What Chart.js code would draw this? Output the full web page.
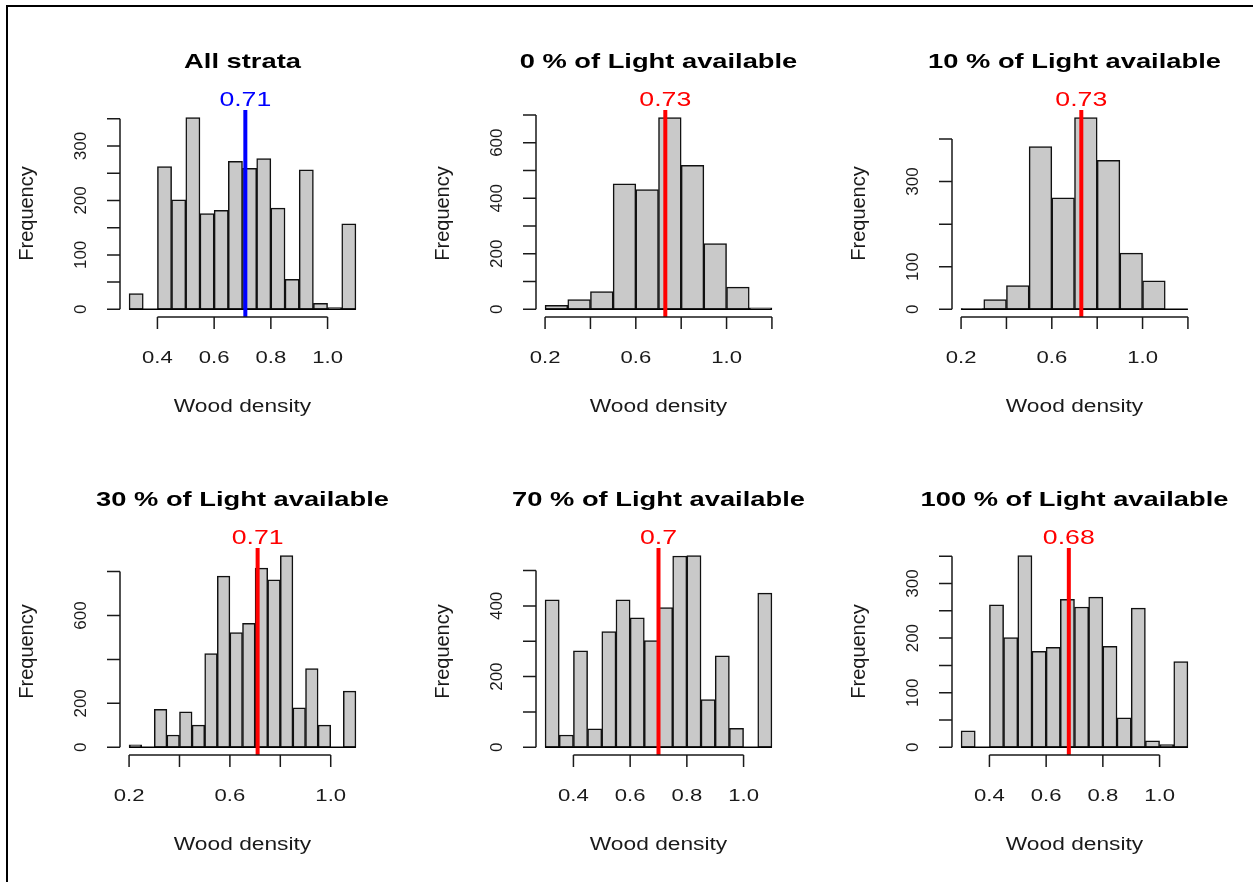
<!DOCTYPE html>
<html>
<head>
<meta charset="utf-8">
<script src="https://cdn.jsdelivr.net/npm/chart.js@4.4.1/dist/chart.umd.min.js"></script>
<style>
  body { margin: 0; background: #fff; }
  #page { position: relative; width: 1253px; height: 882px; overflow: hidden; background: #fff; }
  #frame { position: absolute; left: 6px; top: 5px; width: 1300px; height: 900px;
           border-top: 2px solid #000; border-left: 2px solid #000; }
  canvas { position: absolute; }
</style>
</head>
<body>
<div id="page"><div id="frame"></div></div>
<script>
// panel titles and the mean wood density drawn as a vertical line
const titles = ['All strata', '0 % of Light available', '10 % of Light available',
                '30 % of Light available', '70 % of Light available', '100 % of Light available'];
const means = [0.71, 0.73, 0.73, 0.71, 0.7, 0.68];
const meanLabels = ['0.71', '0.73', '0.73', '0.71', '0.7', '0.68'];
const meanColors = ['#0000ff', '#ff0000', '#ff0000', '#ff0000', '#ff0000', '#ff0000'];

// histogram bins: first break and bin width
const binStart = [0.3, 0.2, 0.2, 0.2, 0.3, 0.3];
const binWidth = [0.05, 0.1, 0.1, 0.05, 0.05, 0.05];

// counts per bin
const allStrata = [29, 0, 262, 201, 352, 176, 182, 272, 259, 277, 186, 55, 256, 11, 3, 157];
const light0 = [14, 35, 64, 452, 431, 690, 518, 237, 80, 5];
const light10 = [2, 23, 56, 382, 262, 450, 350, 132, 67, 0];
const light30 = [11, 0, 173, 56, 161, 101, 426, 779, 522, 564, 815, 762, 872, 180, 358, 101, 0, 256];
const light70 = [417, 35, 273, 52, 327, 417, 366, 302, 395, 541, 542, 135, 259, 54, 0, 436];
const light100 = [30, 0, 261, 201, 351, 176, 183, 271, 257, 275, 185, 54, 255, 12, 5, 157];
const counts = [allStrata, light0, light10, light30, light70, light100];

// axis ticks and the labels R managed to print
const xTicks = [
  [0.4, 0.6, 0.8, 1.0],
  [0.2, 0.4, 0.6, 0.8, 1.0, 1.2],
  [0.2, 0.4, 0.6, 0.8, 1.0, 1.2],
  [0.2, 0.4, 0.6, 0.8, 1.0],
  [0.4, 0.6, 0.8, 1.0],
  [0.4, 0.6, 0.8, 1.0]
];
const xLabels = [
  ['0.4', '0.6', '0.8', '1.0'],
  ['0.2', '', '0.6', '', '1.0', ''],
  ['0.2', '', '0.6', '', '1.0', ''],
  ['0.2', '', '0.6', '', '1.0'],
  ['0.4', '0.6', '0.8', '1.0'],
  ['0.4', '0.6', '0.8', '1.0']
];
const yTicks = [
  [0, 50, 100, 150, 200, 250, 300, 350],
  [0, 100, 200, 300, 400, 500, 600, 700],
  [0, 100, 200, 300, 400],
  [0, 200, 400, 600, 800],
  [0, 100, 200, 300, 400, 500],
  [0, 50, 100, 150, 200, 250, 300, 350]
];
const yLabels = [
  ['0', '', '100', '', '200', '', '300', ''],
  ['0', '', '200', '', '400', '', '600', ''],
  ['0', '100', '', '300', ''],
  ['0', '200', '', '600', ''],
  ['0', '', '200', '', '400', ''],
  ['0', '', '100', '', '200', '', '300', '']
];

const FONT = "'Liberation Sans', Arial, sans-serif";
const CELL_W = 416, CELL_H = 440, ROW_STEP = 438;
const PAD = { left: 120, top: 110, right: CELL_W - 365, bottom: CELL_H - 317 };

function wideText(ctx, text, x, y, font, sx, color) {
    ctx.save();
    ctx.translate(x, y);
    ctx.scale(sx, 1);
    ctx.font = font;
    ctx.fillStyle = color;
    ctx.textAlign = 'center';
    ctx.textBaseline = 'alphabetic';
    ctx.fillText(text, 0, 0);
    ctx.restore();
}

function upText(ctx, text, x, y, font, color) {
    ctx.save();
    ctx.translate(x, y);
    ctx.rotate(-Math.PI / 2);
    ctx.font = font;
    ctx.fillStyle = color;
    ctx.textAlign = 'center';
    ctx.textBaseline = 'alphabetic';
    ctx.fillText(text, 0, 0);
    ctx.restore();
}

function rPlot(i) {
    const lo = binStart[i];
    const hi = binStart[i] + counts[i].length * binWidth[i];
    return {
        id: 'rPlot' + i,
        afterDatasetsDraw(chart) {
            const { ctx, chartArea: a, scales: { x, y } } = chart;
            ctx.save();
            // bottom of the bins (zero-height bins too)
            ctx.strokeStyle = '#000';
            ctx.lineWidth = 1.5;
            ctx.beginPath();
            ctx.moveTo(x.getPixelForValue(lo), y.getPixelForValue(0));
            ctx.lineTo(x.getPixelForValue(hi), y.getPixelForValue(0));
            ctx.stroke();

            // mean line
            const mx = x.getPixelForValue(means[i]);
            ctx.strokeStyle = meanColors[i];
            ctx.lineWidth = 4;
            ctx.beginPath();
            ctx.moveTo(mx, a.top);
            ctx.lineTo(mx, a.bottom);
            ctx.stroke();
            ctx.restore();
        },
        afterDraw(chart) {
            const { ctx, chartArea: a, scales: { x, y } } = chart;
            const ink = '#1a1a1a';
            ctx.save();
            ctx.strokeStyle = ink;
            ctx.lineWidth = 1.5;

            // y axis, R style
            const yt = yTicks[i];
            ctx.beginPath();
            ctx.moveTo(a.left, y.getPixelForValue(yt[0]));
            ctx.lineTo(a.left, y.getPixelForValue(yt[yt.length - 1]));
            yt.forEach(v => {
                const py = y.getPixelForValue(v);
                ctx.moveTo(a.left - 13, py);
                ctx.lineTo(a.left, py);
            });
            ctx.stroke();
            yt.forEach((v, k) => {
                if (yLabels[i][k]) upText(ctx, yLabels[i][k], a.left - 34, y.getPixelForValue(v), '17px ' + FONT, ink);
            });

            // x axis
            const xt = xTicks[i];
            ctx.beginPath();
            ctx.moveTo(x.getPixelForValue(xt[0]), a.bottom);
            ctx.lineTo(x.getPixelForValue(xt[xt.length - 1]), a.bottom);
            xt.forEach(v => {
                const px = x.getPixelForValue(v);
                ctx.moveTo(px, a.bottom);
                ctx.lineTo(px, a.bottom + 12);
            });
            ctx.stroke();
            xt.forEach((v, k) => {
                if (xLabels[i][k]) wideText(ctx, xLabels[i][k], x.getPixelForValue(v), a.bottom + 46, '17px ' + FONT, 1.3, ink);
            });

            // axis titles, main title, mean label
            const cx = (a.left + a.right) / 2;
            wideText(ctx, 'Wood density', cx, a.bottom + 95, '17.5px ' + FONT, 1.3, ink);
            upText(ctx, 'Frequency', a.left - 87, (a.top + a.bottom) / 2, '20px ' + FONT, ink);
            wideText(ctx, titles[i], cx, 68, 'bold 21px ' + FONT, 1.3, '#000');
            wideText(ctx, meanLabels[i], x.getPixelForValue(means[i]), a.top - 4, '21px ' + FONT, 1.27, meanColors[i]);
            ctx.restore();
        }
    };
}

const page = document.getElementById('page');

counts.forEach((c, i) => {
    const canvas = document.createElement('canvas');
    canvas.width = CELL_W;
    canvas.height = CELL_H;
    canvas.style.left = (416 * (i % 3)) + 'px';
    canvas.style.top = (ROW_STEP * Math.floor(i / 3)) + 'px';
    page.appendChild(canvas);

    const lo = binStart[i];
    const hi = binStart[i] + c.length * binWidth[i];
    const top = Math.max(...c);

    new Chart(canvas, {
        type: 'bar',
        data: {
            datasets: [{
                data: c.map((v, k) => ({ x: lo + (k + 0.5) * binWidth[i], y: v })),
                backgroundColor: '#c9c9c9',
                borderColor: '#111',
                borderWidth: 1.5,
                borderSkipped: false,
                barPercentage: 1,
                categoryPercentage: 1
            }]
        },
        options: {
            responsive: false,
            animation: false,
            devicePixelRatio: 1,
            events: [],
            layout: { padding: PAD },
            plugins: { legend: { display: false }, tooltip: { enabled: false } },
            scales: {
                x: { type: 'linear', offset: false, grid: { offset: false },
                     min: lo - 0.04 * (hi - lo), max: hi + 0.04 * (hi - lo), display: false },
                y: { type: 'linear', min: -0.04 * top, max: 1.04 * top, display: false }
            }
        },
        plugins: [rPlot(i)]
    });
});
</script>
</body>
</html>
